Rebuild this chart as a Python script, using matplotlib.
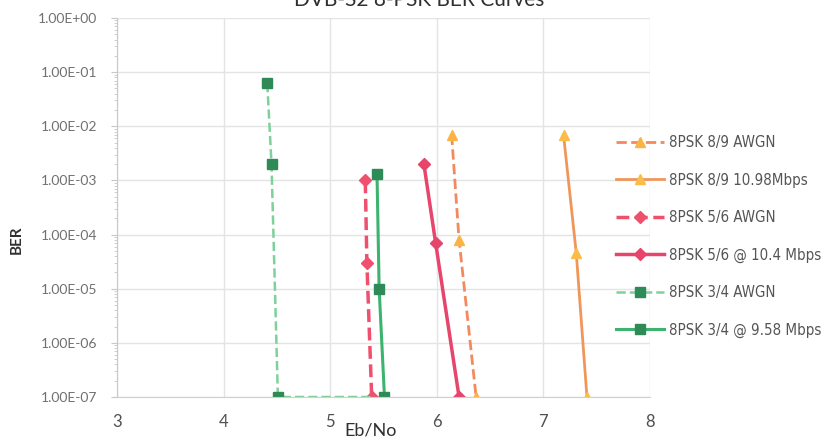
import matplotlib
matplotlib.use('Agg')
import matplotlib.pyplot as plt
from matplotlib.ticker import FixedLocator, FuncFormatter, LogLocator, NullFormatter

plt.rcParams['font.family'] = ['Lato', 'DejaVu Sans']

# data (Eb/No in dB, BER)
x_89_awgn = [6.14, 6.21, 6.37]
y_89_awgn = [7e-3, 8e-5, 1e-7]
x_89_rate = [7.19, 7.31, 7.41]
y_89_rate = [7e-3, 4.5e-5, 1e-7]
x_56_awgn = [5.33, 5.345, 5.39]
y_56_awgn = [1e-3, 3e-5, 1e-7]
x_56_rate = [5.88, 5.99, 6.21]
y_56_rate = [2e-3, 7e-5, 1e-7]
x_34_awgn = [4.41, 4.45, 4.51, 5.38]
y_34_awgn = [6.3e-2, 2e-3, 1e-7, 1e-7]
x_34_rate = [5.44, 5.46, 5.51]
y_34_rate = [1.3e-3, 1e-5, 1e-7]

labels = ['8PSK 8/9 AWGN', '8PSK 8/9 10.98Mbps', '8PSK 5/6 AWGN',
          '8PSK 5/6 @ 10.4 Mbps', '8PSK 3/4 AWGN', '8PSK 3/4 @ 9.58 Mbps']
yticks = [1e0, 1e-1, 1e-2, 1e-3, 1e-4, 1e-5, 1e-6, 1e-7]

fig = plt.figure(figsize=(8.21, 4.42), dpi=100)
ax = fig.add_axes([0.1425, 0.1018, 0.649, 0.8575])

ax.plot(x_89_awgn, y_89_awgn, '--', color='#f4895f', lw=2,
        marker='^', ms=7, mfc='#fbb444', mec='#fbb444', label=labels[0])
ax.plot(x_89_rate, y_89_rate, '-', color='#f0965a', lw=2,
        marker='^', ms=7, mfc='#fbbc48', mec='#fbbc48', label=labels[1])
ax.plot(x_56_awgn, y_56_awgn, '--', color='#f0506e', lw=2.5,
        marker='D', ms=6, mfc='#f0506e', mec='#f0506e', label=labels[2])
ax.plot(x_56_rate, y_56_rate, '-', color='#e8456c', lw=2.5,
        marker='D', ms=6, mfc='#e8456c', mec='#e8456c', label=labels[3])
ax.plot(x_34_awgn, y_34_awgn, '--', color='#7fd19b', lw=1.8, markevery=[0, 1, 2],
        marker='s', ms=7, mfc='#2e8b57', mec='#2e8b57', label=labels[4])
ax.plot(x_34_rate, y_34_rate, '-', color='#3cb36f', lw=2.2,
        marker='s', ms=7, mfc='#2e8b57', mec='#2e8b57', label=labels[5])

ax.set_yscale('log')
ax.set_xlim(3, 8)
ax.set_ylim(1e-7, 1e0)
ax.yaxis.set_major_locator(FixedLocator(yticks))
ax.yaxis.set_major_formatter(FuncFormatter(lambda v, p: '{:.2E}'.format(v)))
ax.yaxis.set_minor_locator(LogLocator(base=10, subs=range(2, 10), numticks=20))
ax.yaxis.set_minor_formatter(NullFormatter())
ax.set_xticks([3, 4, 5, 6, 7, 8])

ax.grid(True, which='major', color='#e4e4e4', lw=1)
for s in ['top', 'right']:
    ax.spines[s].set_visible(False)
ax.spines['left'].set_color('#c8c8c8')
ax.spines['bottom'].set_color('#d0d0d0')
ax.tick_params(axis='y', which='major', length=4, color='#c8c8c8',
               labelsize=10, labelcolor='#707070', pad=10)
ax.tick_params(axis='y', which='minor', length=2, color='#c8c8c8')
ax.tick_params(axis='x', length=0, labelsize=12, labelcolor='#505050', pad=12)

ax.set_xlabel('Eb/No', fontsize=13, color='#303030')
ax.xaxis.set_label_coords(0.475, -0.066)
ax.set_ylabel('BER', fontsize=11, fontweight='bold', color='#303030')
ax.yaxis.set_label_coords(-0.175, 0.414)

fig.text(0.511, 1.0, 'DVB-S2 8-PSK BER Curves', fontsize=15, color='#303030',
         ha='center', va='center')

leg = fig.legend(loc='upper left', bbox_to_anchor=(616 / 821, 1 - 135 / 442),
                 bbox_transform=fig.transFigure, frameon=False, borderpad=0,
                 borderaxespad=0, handlelength=3.2, labelspacing=1.5,
                 handletextpad=0.3, labelcolor='#555555',
                 prop={'family': 'DejaVu Sans', 'stretch': 'condensed', 'size': 10.8})

fig.savefig('out.png', dpi=100)
